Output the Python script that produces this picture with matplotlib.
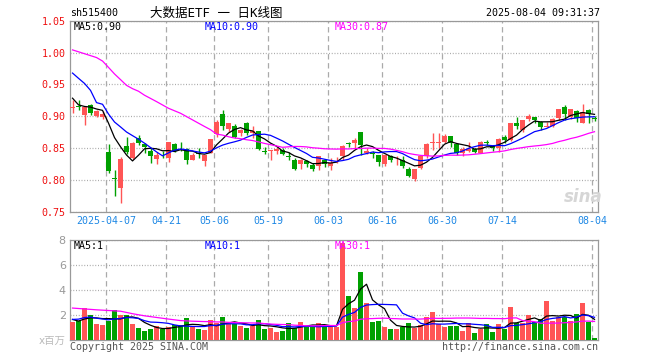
import numpy as np
import pandas as pd
import matplotlib
matplotlib.use("Agg")
import matplotlib.pyplot as plt

plt.rcParams["font.family"] = ["DejaVu Sans Mono", "Noto Sans CJK SC"]

# daily candles (sh515400), 2025-03-27 .. 2025-08-04
opens = [0.914, 0.9148, 0.902, 0.917, 0.900, 0.899, 0.844, 0.8018, 0.787, 0.853,
         0.834, 0.865, 0.8565, 0.8446, 0.832, 0.8425, 0.835, 0.8565, 0.8516, 0.848,
         0.8316, 0.8412, 0.829, 0.842, 0.872, 0.903, 0.8793, 0.885, 0.873, 0.8896,
         0.873, 0.8767, 0.8448, 0.8455, 0.8456, 0.847, 0.837, 0.8316, 0.8254, 0.829,
         0.8238, 0.8213, 0.8316, 0.8213, 0.8325, 0.8368, 0.8567, 0.8586, 0.8751, 0.842,
         0.8412, 0.8383, 0.8254, 0.8378, 0.8325, 0.8316, 0.8176, 0.8016, 0.8187, 0.8368,
         0.8584, 0.8589, 0.859, 0.869, 0.8565, 0.842, 0.846, 0.849, 0.8426, 0.8585,
         0.8534, 0.850, 0.868, 0.8627, 0.8896, 0.879, 0.895, 0.899, 0.891, 0.8843,
         0.8845, 0.8964, 0.9145, 0.899, 0.9083, 0.8896, 0.909, 0.8966]
highs = [0.925, 0.926, 0.9145, 0.9187, 0.909, 0.908, 0.857, 0.816, 0.836, 0.868,
         0.859, 0.870, 0.8586, 0.850, 0.843, 0.846, 0.860, 0.858, 0.860, 0.8497,
         0.842, 0.8497, 0.8394, 0.864, 0.894, 0.909, 0.890, 0.8875, 0.8803, 0.8907,
         0.884, 0.877, 0.8524, 0.847, 0.851, 0.8497, 0.843, 0.8342, 0.8327, 0.8316,
         0.8264, 0.8378, 0.8327, 0.8342, 0.8353, 0.855, 0.8601, 0.8653, 0.8757, 0.8497,
         0.8456, 0.8394, 0.8383, 0.8394, 0.8368, 0.8378, 0.8201, 0.8176, 0.8378, 0.8575,
         0.873, 0.874, 0.8715, 0.869, 0.8575, 0.852, 0.859, 0.8497, 0.861, 0.862,
         0.855, 0.8655, 0.8705, 0.8896, 0.899, 0.8938, 0.904, 0.899, 0.8927, 0.891,
         0.897, 0.912, 0.9176, 0.912, 0.9093, 0.9197, 0.9114, 0.900]
lows = [0.905, 0.909, 0.886, 0.9016, 0.899, 0.895, 0.811, 0.775, 0.763, 0.840,
        0.832, 0.855, 0.842, 0.826, 0.825, 0.834, 0.8275, 0.843, 0.845, 0.8254,
        0.8306, 0.834, 0.822, 0.842, 0.868, 0.879, 0.8756, 0.8654, 0.8689, 0.8705,
        0.8654, 0.847, 0.841, 0.8316, 0.841, 0.839, 0.8306, 0.816, 0.8176, 0.8201,
        0.8135, 0.816, 0.8201, 0.816, 0.8264, 0.8316, 0.8513, 0.8477, 0.8394, 0.8404,
        0.8342, 0.8223, 0.8223, 0.8275, 0.8238, 0.8187, 0.8047, 0.798, 0.8172, 0.8342,
        0.847, 0.8497, 0.8575, 0.8524, 0.8394, 0.8368, 0.844, 0.8425, 0.8426, 0.854,
        0.8456, 0.844, 0.8575, 0.8617, 0.8793, 0.8757, 0.8917, 0.8886, 0.878, 0.8824,
        0.8834, 0.8948, 0.894, 0.895, 0.891, 0.8886, 0.8886, 0.8927]
closes = [0.9145, 0.9145, 0.9145, 0.905, 0.908, 0.904, 0.8135, 0.8016, 0.833, 0.843,
          0.8575, 0.8586, 0.852, 0.837, 0.839, 0.842, 0.860, 0.8446, 0.8513, 0.8306,
          0.8394, 0.841, 0.8394, 0.864, 0.891, 0.8845, 0.8886, 0.868, 0.878, 0.873,
          0.877, 0.8487, 0.8446, 0.8456, 0.848, 0.840, 0.8368, 0.8176, 0.8306, 0.8254,
          0.817, 0.8378, 0.8254, 0.8264, 0.8327, 0.8534, 0.8565, 0.8627, 0.855, 0.846,
          0.841, 0.8275, 0.8383, 0.8316, 0.8327, 0.8213, 0.8068, 0.8176, 0.8368, 0.8565,
          0.8586, 0.859, 0.869, 0.8575, 0.842, 0.849, 0.849, 0.8437, 0.860, 0.858,
          0.8495, 0.8648, 0.8627, 0.8896, 0.8845, 0.8938, 0.900, 0.894, 0.8834, 0.8845,
          0.895, 0.911, 0.903, 0.912, 0.8964, 0.9067, 0.903, 0.8964]
# volume, millions of shares
volumes = [1.47, 1.55, 2.53, 2.0, 1.28, 1.2, 1.55, 2.4, 2.0, 2.0,
           1.28, 0.99, 0.75, 0.88, 1.12, 0.85, 1.01, 1.2, 1.2, 1.79,
           1.07, 0.88, 0.8, 1.6, 1.33, 1.81, 1.28, 1.25, 1.12, 0.99,
           1.15, 1.6, 0.88, 0.99, 0.67, 0.72, 1.33, 0.99, 1.44, 1.12,
           1.12, 1.33, 1.15, 1.01, 1.07, 7.73, 3.52, 2.59, 5.47, 2.99,
           1.47, 1.55, 1.04, 0.88, 0.88, 1.07, 1.36, 0.99, 1.2, 1.81,
           2.24, 1.25, 1.04, 1.15, 1.15, 0.75, 1.36, 0.59, 0.88, 1.28,
           0.67, 1.28, 0.88, 2.64, 1.39, 1.33, 2.0, 1.47, 1.65, 3.12,
           1.52, 1.81, 1.81, 1.55, 2.08, 2.99, 1.47, 0.16]

# 29 sessions before the window (not drawn), estimated from where the MA lines start
prev_closes = [1.004, 1.005, 0.995, 0.998, 1.069, 1.1135, 1.11, 1.10, 1.113, 1.0135,
               0.98, 1.04, 0.987, 0.989, 1.0, 1.0175, 0.962, 0.968, 0.987, 0.995,
               0.997, 0.995, 1.014, 1.10, 0.93, 0.967, 0.927, 0.910, 0.923]
prev_volumes = [2.6, 3.58, 3.05, 2.33, 2.03, 2.38, 3.23, 2.83, 5.0, 4.28,
                3.54, 3.3, 2.83, 3.07, 2.8, 2.96, 3.0, 3.0, 2.54, 1.82,
                1.33, 1.25, 1.6, 2.23, 1.85, 2.18, 1.7, 1.57, 1.29]

tick_idx = [6, 16, 24, 33, 43, 52, 62, 72, 87]
tick_labels = ["2025-04-07", "04-21", "05-06", "05-19", "06-03",
               "06-16", "06-30", "07-14", "08-04"]
price_ticks = [0.75, 0.80, 0.85, 0.90, 0.95, 1.00, 1.05]
vol_ticks = [0, 2, 4, 6, 8]
vol_tick_labels = ["x百万", "2", "4", "6", "8"]

ma_windows = [5, 10, 30]
ma_colors = ["#000000", "#0000ff", "#ff00ff"]
price_ma_text = ["MA5:0.90", "MA10:0.90", "MA30:0.87"]
vol_ma_text = ["MA5:1", "MA10:1", "MA30:1"]

RED = "#ff5555"
GREEN = "#00a000"
FRAME = "#999999"
GRID = "#aaaaaa"

W, H = 660, 360
fig = plt.figure(figsize=(W / 100, H / 100), dpi=100)


def fx(px):
    return px / W


def fy(px):
    return 1 - px / H


ax = fig.add_axes([fx(70), fy(211.7), 528 / W, 191 / H])
axv = fig.add_axes([fx(70), fy(340), 528 / W, 100 / H])

n = len(closes)
x = np.arange(n)
o, hi, lo, c = map(np.array, (opens, highs, lows, closes))
colors = np.where(c >= o, RED, GREEN)

# candles
ax.vlines(x, lo, hi, colors=colors, linewidth=1, zorder=2)
body = np.maximum(np.abs(c - o), 0.0012)
ax.bar(x, body, bottom=(o + c) / 2 - body / 2, width=0.78, color=colors,
       linewidth=0, zorder=3)

# moving averages
k = len(prev_closes)
all_c = pd.Series(prev_closes + closes)
all_v = pd.Series(prev_volumes + volumes)
for w, col in zip(ma_windows, ma_colors):
    ax.plot(x, all_c.rolling(w).mean().to_numpy()[k:], color=col, lw=0.9, zorder=4)
    axv.plot(x, all_v.rolling(w).mean().to_numpy()[k:], color=col, lw=0.9, zorder=4)

axv.bar(x, volumes, width=0.82, color=colors, linewidth=0, zorder=3)

for a in (ax, axv):
    a.set_xlim(-0.42, n - 1 + 0.58)
    a.set_xticks([t - 0.42 for t in tick_idx])
    a.grid(axis="x", color=GRID, linestyle=(0, (4.3, 2.9)), linewidth=0.9)
    a.grid(axis="y", color=GRID, linestyle=(0, (0.8, 1.4)), linewidth=0.9)
    a.set_axisbelow(True)
    for s in a.spines.values():
        s.set_color(FRAME)
        s.set_linewidth(0.9)
    a.tick_params(length=0)

ax.set_ylim(0.75, 1.05)
ax.set_yticks(price_ticks)
ax.set_yticklabels([f"{v:.2f}" for v in price_ticks])
ax.tick_params(axis="y", labelcolor="#ee1111", labelsize=7.2, pad=3)
ax.set_xticklabels(tick_labels)
ax.tick_params(axis="x", labelcolor="#1e88e5", labelsize=7.2, pad=3)

axv.set_ylim(0, 8)
axv.set_yticks(vol_ticks)
axv.set_yticklabels(vol_tick_labels)
axv.tick_params(axis="y", labelcolor="#999999", labelsize=8, pad=3)
for lab in axv.get_yticklabels():
    lab.set_fontfamily(["DejaVu Sans", "Noto Sans CJK SC"])
axv.get_yticklabels()[0].set_color("#bbbbbb")
axv.get_yticklabels()[0].set_fontsize(7.5)
axv.set_xticklabels([])

# header
fig.text(fx(70), fy(13), "sh515400", fontsize=7.2, va="center")
fig.text(fx(150), fy(13), "大数据ETF 一 日K线图", fontsize=9, va="center")
fig.text(fx(600), fy(13), "2025-08-04 09:31:37", fontsize=7.2, va="center", ha="right")

for xp, txt, col in zip([74, 205, 335], price_ma_text, ma_colors):
    fig.text(fx(xp), fy(27), txt, color=col, fontsize=7.2, va="center")
for xp, txt, col in zip([74, 205, 335], vol_ma_text, ma_colors):
    fig.text(fx(xp), fy(246), txt, color=col, fontsize=7.2, va="center")

# watermark + footer
fig.text(fx(583), fy(197), "sina", color="#d6d6d6", fontsize=12, ha="center",
         va="center", style="italic", weight="bold", family="DejaVu Sans")
fig.text(fx(70), fy(347), "Copyright 2025 SINA.COM", color="#555555",
         fontsize=7.2, va="center")
fig.text(fx(598), fy(347), "http://finance.sina.com.cn", color="#555555",
         fontsize=7.2, va="center", ha="right")

fig.savefig("out.png", dpi=100)
